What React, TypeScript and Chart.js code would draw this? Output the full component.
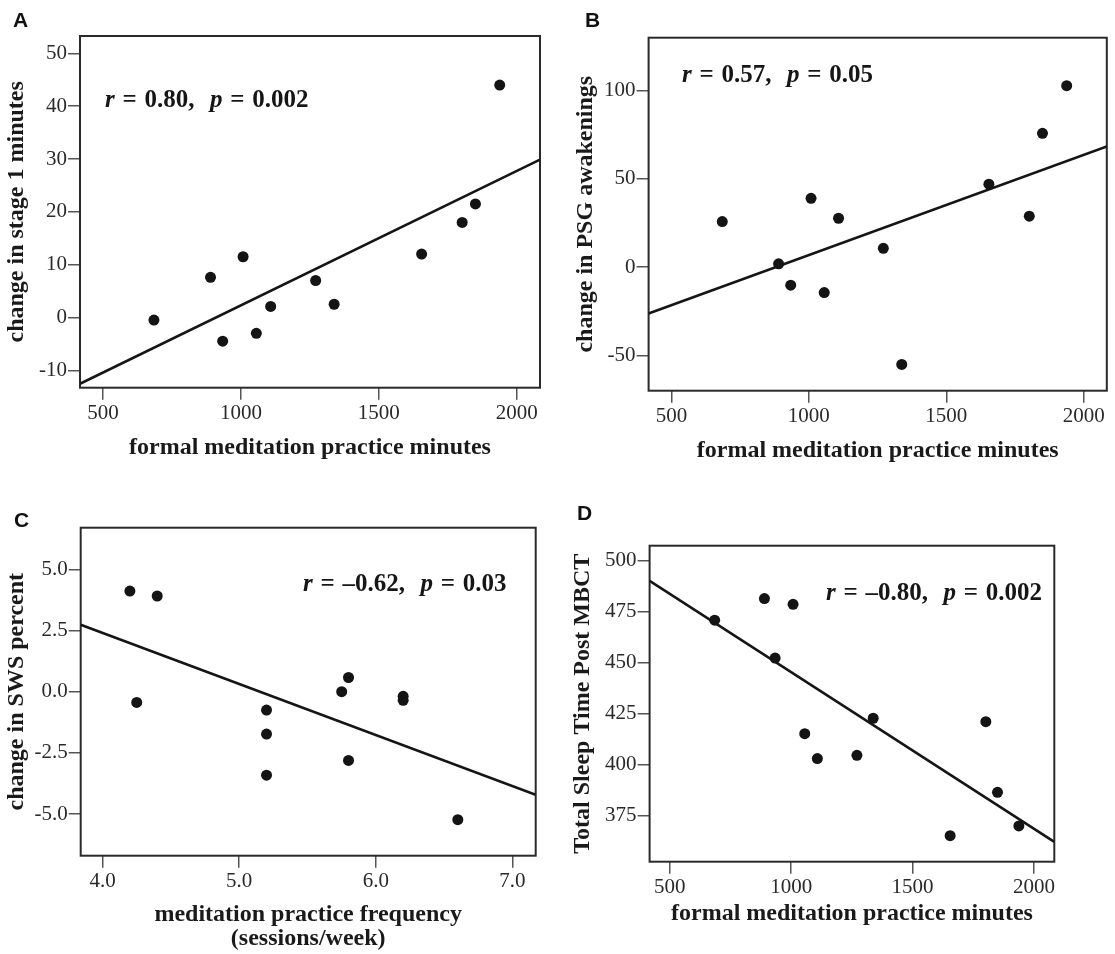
import React, { useEffect, useRef } from 'react';
import { Chart, registerables } from 'chart.js';

Chart.register(...registerables);

// ---------- data ----------
const practiceMinutes = [685, 890, 934, 1008, 1056, 1108, 1271, 1338, 1655, 1802, 1850, 1938];
const stage1Change = [-0.5, 7.6, -4.5, 11.5, -3, 2.1, 7, 2.5, 12, 18, 21.5, 44];
const psgAwakeningsChange = [25.8, 1.9, -10.2, 39, -14.4, 27.7, 10.7, -55.1, 47, 28.9, 75.8, 102.8];
const practiceFrequency = [4.2, 4.4, 4.25, 5.2, 5.2, 5.2, 5.75, 5.8, 5.8, 6.2, 6.2, 6.6];
const swsChange = [4.11, 3.91, -0.44, -0.75, -1.73, -3.41, 0.0, 0.58, -2.81, -0.19, -0.35, -5.23];
const totalSleepPost = [470.9, 481.5, 452.3, 478.7, 415.1, 402.9, 404.5, 422.7, 365, 421, 386.3, 369.8];

// regression fits (slope, intercept)
const fitA = { slope: 0.02547, intercept: -23.18 };
const fitB = { slope: 0.0568, intercept: -49.98 };
const fitC = { slope: -2.087, intercept: 10.75 };
const fitD = { slope: -0.07693, intercept: 522.3 };

// axis ranges
const xRangeMinutes = [417, 2084];
const xRangeFreq = [3.84, 7.17];
const yRangeA = [-13.3, 53.3];
const yRangeB = [-70, 130];
const yRangeC = [-6.7, 6.7];
const yRangeD = [352.2, 507.5];

// tick values
const minutesTicks = [500, 1000, 1500, 2000];
const freqTicks = [4, 5, 6, 7];
const yTicksA = [-10, 0, 10, 20, 30, 40, 50];
const yTicksB = [-50, 0, 50, 100];
const yTicksC = [-5, -2.5, 0, 2.5, 5];
const yTicksD = [375, 400, 425, 450, 475, 500];

const statsA = { r: '0.80', p: '0.002' };
const statsB = { r: '0.57', p: '0.05' };
const statsC = { r: '\u20130.62', p: '0.03' };
const statsD = { r: '\u20130.80', p: '0.002' };

const SERIF = "'Liberation Serif', 'Times New Roman', Times, serif";
const SANS = "'Liberation Sans', Arial, Helvetica, sans-serif";

const fmtInt = (v: number) => String(Math.round(v));
const fmt1 = (v: number) => Number(v).toFixed(1);

type PanelCfg = {
  letter: string;
  letterPos: { left: number; baseline: number };
  canvas: { left: number; top: number; w: number; h: number };
  yAxisW: number;
  xAxisH: number;
  padTop: number;
  padRight: number;
  yTitlePad: number;
  xs: number[];
  ys: number[];
  fit: { slope: number; intercept: number };
  xRange: number[];
  yRange: number[];
  xTicks: number[];
  yTicks: number[];
  xFmt: (v: number) => string;
  yFmt: (v: number) => string;
  xTitle: string | string[];
  xTitleLH: number;
  yTitle: string;
  stats: { r: string; p: string };
  statsPos: { left: number; baseline: number };
};

const panels: PanelCfg[] = [
  {
    letter: 'A',
    letterPos: { left: 13, baseline: 26.7 },
    canvas: { left: 0, top: 0, w: 560, h: 462 },
    yAxisW: 80, xAxisH: 74.3, padTop: 36, padRight: 20, yTitlePad: 2.5,
    xs: practiceMinutes, ys: stage1Change, fit: fitA,
    xRange: xRangeMinutes, yRange: yRangeA, xTicks: minutesTicks, yTicks: yTicksA,
    xFmt: fmtInt, yFmt: fmtInt,
    xTitle: 'formal meditation practice minutes', xTitleLH: 1.2,
    yTitle: 'change in stage 1 minutes',
    stats: statsA, statsPos: { left: 105, baseline: 106.7 },
  },
  {
    letter: 'B',
    letterPos: { left: 585, baseline: 26.7 },
    canvas: { left: 560, top: 0, w: 555, h: 465 },
    yAxisW: 88.6, xAxisH: 74.3, padTop: 37.7, padRight: 8.2, yTitlePad: 11.1,
    xs: practiceMinutes, ys: psgAwakeningsChange, fit: fitB,
    xRange: xRangeMinutes, yRange: yRangeB, xTicks: minutesTicks, yTicks: yTicksB,
    xFmt: fmtInt, yFmt: fmtInt,
    xTitle: 'formal meditation practice minutes', xTitleLH: 1.2,
    yTitle: 'change in PSG awakenings',
    stats: statsB, statsPos: { left: 682, baseline: 81.7 },
  },
  {
    letter: 'C',
    letterPos: { left: 14, baseline: 526.7 },
    canvas: { left: 0, top: 480, w: 560, h: 471 },
    yAxisW: 80.7, xAxisH: 95.3, padTop: 47.7, padRight: 24.3, yTitlePad: 2.6,
    xs: practiceFrequency, ys: swsChange, fit: fitC,
    xRange: xRangeFreq, yRange: yRangeC, xTicks: freqTicks, yTicks: yTicksC,
    xFmt: fmt1, yFmt: fmt1,
    xTitle: ['meditation practice frequency', '(sessions/week)'], xTitleLH: 1.0,
    yTitle: 'change in SWS percent',
    stats: statsC, statsPos: { left: 303, baseline: 590.7 },
  },
  {
    letter: 'D',
    letterPos: { left: 577, baseline: 520 },
    canvas: { left: 560, top: 480, w: 555, h: 448 },
    yAxisW: 89.6, xAxisH: 66.3, padTop: 65.7, padRight: 60.7, yTitlePad: 8,
    xs: practiceMinutes, ys: totalSleepPost, fit: fitD,
    xRange: xRangeMinutes, yRange: yRangeD, xTicks: minutesTicks, yTicks: yTicksD,
    xFmt: fmtInt, yFmt: fmtInt,
    xTitle: 'formal meditation practice minutes', xTitleLH: 1.2,
    yTitle: 'Total Sleep Time Post MBCT',
    stats: statsD, statsPos: { left: 826, baseline: 600 },
  },
];

const framePlugin = {
  id: 'frameBox',
  beforeDatasetsDraw(chart: any) {
    const { ctx, chartArea: a } = chart;
    ctx.save();
    ctx.strokeStyle = '#2a2a2a';
    ctx.lineWidth = 2;
    ctx.strokeRect(a.left, a.top, a.right - a.left, a.bottom - a.top);
    ctx.restore();
  },
};

function Panel({ cfg }: { cfg: PanelCfg }) {
  const ref = useRef<HTMLCanvasElement | null>(null);
  useEffect(() => {
    if (!ref.current) return;
    const points = cfg.xs.map((x, i) => ({ x, y: cfg.ys[i] }));
    const [x0, x1] = cfg.xRange;
    const fitLine = [
      { x: x0, y: cfg.fit.intercept + cfg.fit.slope * x0 },
      { x: x1, y: cfg.fit.intercept + cfg.fit.slope * x1 },
    ];
    const tickFont = { family: SERIF, size: 21 };
    const titleFont = { family: SERIF, size: 24, weight: 'bold' as const };
    const gridCfg = { display: true, drawOnChartArea: false, drawTicks: true, tickLength: 12, tickColor: '#555', lineWidth: 1.5 };
    const chart = new Chart(ref.current, {
      type: 'scatter',
      data: {
        datasets: [
          {
            data: points,
            backgroundColor: '#141414',
            borderColor: '#141414',
            pointRadius: 5.5,
            pointBorderWidth: 0,
          },
          {
            data: fitLine,
            showLine: true,
            pointRadius: 0,
            borderColor: '#151515',
            borderWidth: 2.6,
            fill: false,
          } as any,
        ],
      },
      options: {
        animation: false,
        responsive: false,
        devicePixelRatio: 1,
        events: [],
        layout: { padding: { left: 0, top: cfg.padTop, right: cfg.padRight, bottom: 0 } },
        plugins: { legend: { display: false }, tooltip: { enabled: false } },
        scales: {
          x: {
            type: 'linear',
            min: cfg.xRange[0],
            max: cfg.xRange[1],
            afterBuildTicks: (s: any) => { s.ticks = cfg.xTicks.map((v) => ({ value: v })); },
            afterFit: (s: any) => { s.height = cfg.xAxisH; },
            border: { display: false },
            grid: gridCfg,
            ticks: {
              padding: 1, color: '#2a2a2a', font: tickFont,
              maxRotation: 0, autoSkip: false, callback: (v: any) => cfg.xFmt(Number(v)),
            },
            title: {
              display: true, text: cfg.xTitle, color: '#1a1a1a',
              font: { ...titleFont, lineHeight: cfg.xTitleLH }, padding: { top: 0, bottom: 0 },
            },
          },
          y: {
            type: 'linear',
            min: cfg.yRange[0],
            max: cfg.yRange[1],
            afterBuildTicks: (s: any) => { s.ticks = cfg.yTicks.map((v) => ({ value: v })); },
            afterFit: (s: any) => { s.width = cfg.yAxisW; },
            border: { display: false },
            grid: gridCfg,
            ticks: {
              padding: 1, color: '#2a2a2a', font: tickFont,
              autoSkip: false, callback: (v: any) => cfg.yFmt(Number(v)),
            },
            title: {
              display: true, text: cfg.yTitle, color: '#1a1a1a',
              font: { ...titleFont, lineHeight: 1.2 }, padding: { top: cfg.yTitlePad, bottom: 0 },
            },
          },
        },
      } as any,
      plugins: [framePlugin],
    });
    return () => chart.destroy();
  }, [cfg]);

  const statFs = 25;
  const letterFs = 21;
  return (
    <>
      <canvas
        ref={ref}
        width={cfg.canvas.w}
        height={cfg.canvas.h}
        style={{ position: 'absolute', left: cfg.canvas.left, top: cfg.canvas.top, width: cfg.canvas.w, height: cfg.canvas.h }}
      />
      <div
        style={{
          position: 'absolute', left: cfg.letterPos.left, top: cfg.letterPos.baseline - 0.8465 * letterFs,
          fontFamily: SANS, fontWeight: 'bold', fontSize: letterFs, lineHeight: 1, color: '#111',
        }}
      >
        {cfg.letter}
      </div>
      <div
        style={{
          position: 'absolute', left: cfg.statsPos.left, top: cfg.statsPos.baseline - 0.8375 * statFs,
          fontFamily: SERIF, fontWeight: 'bold', fontSize: statFs, lineHeight: 1, color: '#161616',
          whiteSpace: 'pre', wordSpacing: '1.5px',
        }}
      >
        <i>r</i>{' = ' + cfg.stats.r + ',  '}<i>p</i>{' = ' + cfg.stats.p}
      </div>
    </>
  );
}

export default function App() {
  return (
    <div style={{ position: 'absolute', left: 0, top: 0, width: 1115, height: 954, overflow: 'hidden', background: '#fff' }}>
      {panels.map((p) => (
        <Panel key={p.letter} cfg={p} />
      ))}
    </div>
  );
}
